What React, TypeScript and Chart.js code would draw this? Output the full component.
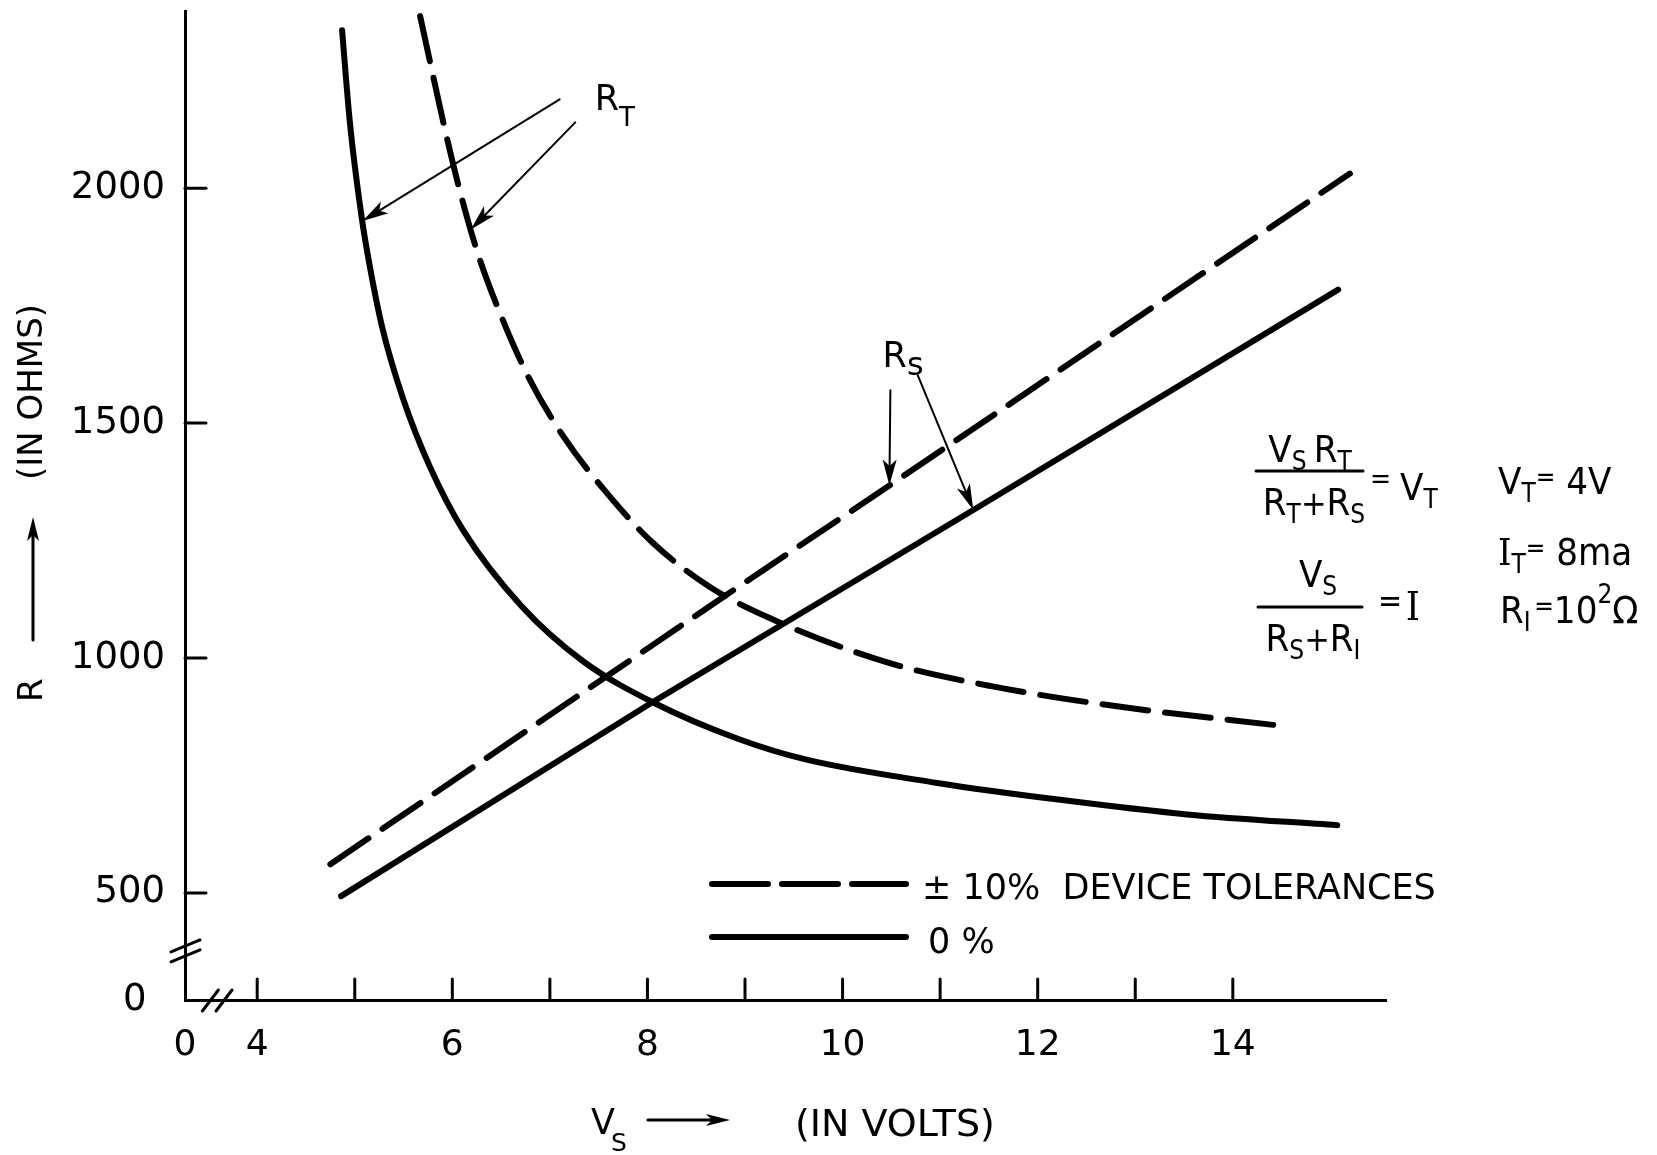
import React, { useEffect, useRef } from "react";
import { Chart, registerables } from "chart.js";

Chart.register(...registerables);

const FONT = '"DejaVu Sans", "Liberation Sans", Arial, sans-serif';
const SERIF = '"DejaVu Serif", "Liberation Serif", serif';

// Axis ranges (volts / ohms); both axes are broken near the origin
const X_MIN = 3.26;
const X_MAX = 15.57;
const Y_MIN = 272;
const Y_MAX = 2377;

const xTickMarks = [4, 5, 6, 7, 8, 9, 10, 11, 12, 13, 14];
const xTickLabels = [4, 6, 8, 10, 12, 14];
const yTickValues = [500, 1000, 1500, 2000];

// R_T at 0 % tolerance (solid)
const rtSolidV = [4.87, 4.95, 5.07, 5.14, 5.28, 5.5, 5.77, 6.11, 6.71, 7.34, 8.08, 8.94, 9.62, 10.97, 12.23, 13.53, 15.07];
const rtSolidR = [2336, 2140, 1939, 1850, 1705, 1549, 1407, 1272, 1110, 993, 903, 827, 784, 734, 698, 667, 644];

// R_T at ±10 % device tolerances (dashed)
const rtDashedV = [5.67, 5.79, 5.93, 6.08, 6.25, 6.49, 6.78, 7.14, 7.6, 8.06, 8.64, 9.23, 10.45, 11.55, 12.85, 14.48];
const rtDashedR = [2366, 2251, 2120, 1992, 1868, 1733, 1598, 1471, 1347, 1244, 1151, 1087, 991, 939, 896, 856];

// R_S at 0 % tolerance (solid)
const rsSolidV = [4.86, 8.03, 11.34, 15.08];
const rsSolidR = [493, 903, 1315, 1784];

// R_S at ±10 % device tolerances (dashed)
const rsDashedV = [4.75, 8.8, 10.48, 15.2];
const rsDashedR = [561, 1133, 1367, 2031];

// Annotation anchors (data coordinates)
const rtLabelAt = [7.46, 2166];
const rtArrows = [
  [7.1, 2189, 5.08, 1930],
  [7.26, 2140, 6.19, 1912],
];
const rsLabelAt = [10.41, 1619];
const rsArrows = [
  [10.49, 1570, 10.48, 1367],
  [10.77, 1602, 11.34, 1315],
];
const xBreakAt = [3.52, 3.66];
const yBreakAt = [387, 366];

type Run = { t: string; s: number; dy?: number; f?: string; gap?: number };

function measureRuns(ctx: CanvasRenderingContext2D, runs: Run[]) {
  let w = 0;
  for (const r of runs) {
    ctx.font = `${r.s}px ${r.f || FONT}`;
    w += ctx.measureText(r.t).width + (r.gap || 0);
  }
  return w;
}

function drawRuns(
  ctx: CanvasRenderingContext2D,
  x: number,
  y: number,
  runs: Run[],
  k = 1,
  align: "left" | "center" = "left"
) {
  const w = measureRuns(ctx, runs) * k;
  const sx = align === "center" ? x - w / 2 : x;
  ctx.save();
  ctx.translate(sx, y);
  ctx.scale(k, 1);
  ctx.textAlign = "left";
  ctx.textBaseline = "alphabetic";
  let px = 0;
  for (const r of runs) {
    ctx.font = `${r.s}px ${r.f || FONT}`;
    ctx.fillText(r.t, px, r.dy || 0);
    px += ctx.measureText(r.t).width + (r.gap || 0);
  }
  ctx.restore();
}

function arrow(
  ctx: CanvasRenderingContext2D,
  x1: number,
  y1: number,
  x2: number,
  y2: number,
  lw: number,
  hl: number,
  hw: number
) {
  const a = Math.atan2(y2 - y1, x2 - x1);
  const bx = x2 - hl * Math.cos(a);
  const by = y2 - hl * Math.sin(a);
  ctx.lineWidth = lw;
  ctx.beginPath();
  ctx.moveTo(x1, y1);
  ctx.lineTo(bx + 0.3 * hl * Math.cos(a), by + 0.3 * hl * Math.sin(a));
  ctx.stroke();
  ctx.beginPath();
  ctx.moveTo(x2, y2);
  ctx.lineTo(bx + hw * Math.sin(a), by - hw * Math.cos(a));
  ctx.lineTo(bx + 0.25 * hl * Math.cos(a), by + 0.25 * hl * Math.sin(a));
  ctx.lineTo(bx - hw * Math.sin(a), by + hw * Math.cos(a));
  ctx.closePath();
  ctx.fill();
}

const decor = {
  id: "decor",
  afterDraw(chart: any) {
    const { ctx, chartArea } = chart;
    const xs = chart.scales.x;
    const ys = chart.scales.y;
    const X = (v: number) => xs.getPixelForValue(v);
    const Y = (v: number) => ys.getPixelForValue(v);
    ctx.save();
    ctx.strokeStyle = "#000";
    ctx.fillStyle = "#000";
    ctx.lineCap = "round";
    ctx.lineJoin = "round";

    // inward tick marks
    ctx.lineWidth = 3;
    for (const v of xTickMarks) {
      ctx.beginPath();
      ctx.moveTo(X(v), chartArea.bottom);
      ctx.lineTo(X(v), chartArea.bottom - 21);
      ctx.stroke();
    }
    for (const v of yTickValues) {
      ctx.beginPath();
      ctx.moveTo(chartArea.left, Y(v));
      ctx.lineTo(chartArea.left + 21, Y(v));
      ctx.stroke();
    }

    // axis breaks
    ctx.lineWidth = 3;
    for (const v of xBreakAt) {
      const cx = X(v);
      const cy = chartArea.bottom;
      ctx.beginPath();
      ctx.moveTo(cx - 8, cy + 11);
      ctx.lineTo(cx + 8, cy - 10);
      ctx.stroke();
    }
    for (const v of yBreakAt) {
      const cx = chartArea.left;
      const cy = Y(v);
      ctx.beginPath();
      ctx.moveTo(cx - 14, cy + 6);
      ctx.lineTo(cx + 15, cy - 6);
      ctx.stroke();
    }

    // R_T label and leaders
    drawRuns(ctx, X(rtLabelAt[0]), Y(rtLabelAt[1]), [
      { t: "R", s: 35 },
      { t: "T", s: 26, dy: 16 },
    ]);
    ctx.fillStyle = "#000";
    for (const a of rtArrows) {
      arrow(ctx, X(a[0]), Y(a[1]), X(a[2]), Y(a[3]), 2, 26, 7);
    }
    // R_S label and leaders
    drawRuns(ctx, X(rsLabelAt[0]), Y(rsLabelAt[1]), [
      { t: "R", s: 35 },
      { t: "s", s: 32, dy: 8 },
    ]);
    for (const a of rsArrows) {
      arrow(ctx, X(a[0]), Y(a[1]), X(a[2]), Y(a[3]), 2, 26, 7);
    }

    // legend
    ctx.lineWidth = 6;
    ctx.setLineDash([56, 14]);
    ctx.beginPath();
    ctx.moveTo(712, 884);
    ctx.lineTo(906, 884);
    ctx.stroke();
    ctx.setLineDash([]);
    ctx.beginPath();
    ctx.moveTo(712, 937);
    ctx.lineTo(906, 937);
    ctx.stroke();
    ctx.font = `35px ${FONT}`;
    ctx.textAlign = "left";
    ctx.textBaseline = "alphabetic";
    ctx.fillText("± 10%  DEVICE TOLERANCES", 922, 899, 518);
    ctx.fillText("0 %", 928, 953);

    // equations
    const K = 0.9;
    drawRuns(ctx, 1310, 462, [
      { t: "V", s: 38 },
      { t: "S", s: 26, dy: 8, gap: 8 },
      { t: "R", s: 38 },
      { t: "T", s: 26, dy: 8 },
    ], K, "center");
    ctx.lineWidth = 3;
    ctx.beginPath();
    ctx.moveTo(1256, 471);
    ctx.lineTo(1363, 471);
    ctx.stroke();
    drawRuns(ctx, 1314, 515, [
      { t: "R", s: 38 },
      { t: "T", s: 26, dy: 8 },
      { t: "+", s: 34 },
      { t: "R", s: 38 },
      { t: "S", s: 26, dy: 8 },
    ], K, "center");
    drawRuns(ctx, 1370, 500, [
      { t: "=", s: 28, dy: -12, gap: 10 },
      { t: "V", s: 38 },
      { t: "T", s: 26, dy: 8 },
    ], K);
    drawRuns(ctx, 1498, 494, [
      { t: "V", s: 38 },
      { t: "T", s: 26, dy: 8 },
      { t: "=", s: 26, dy: -8 },
      { t: " 4V", s: 38 },
    ], K);
    drawRuns(ctx, 1498, 565, [
      { t: "I", s: 38, f: SERIF },
      { t: "T", s: 26, dy: 8 },
      { t: "=", s: 26, dy: -8 },
      { t: " 8ma", s: 38 },
    ], K);
    drawRuns(ctx, 1318, 587, [
      { t: "V", s: 38 },
      { t: "S", s: 26, dy: 8 },
    ], K, "center");
    ctx.beginPath();
    ctx.moveTo(1258, 607);
    ctx.lineTo(1362, 607);
    ctx.stroke();
    drawRuns(ctx, 1313, 651, [
      { t: "R", s: 38 },
      { t: "S", s: 26, dy: 8 },
      { t: "+", s: 34 },
      { t: "R", s: 38 },
      { t: "I", s: 26, dy: 8 },
    ], K, "center");
    drawRuns(ctx, 1378, 620, [
      { t: "=", s: 32, dy: -8, gap: 4 },
      { t: "I", s: 40, f: SERIF },
    ], K);
    drawRuns(ctx, 1500, 623, [
      { t: "R", s: 38 },
      { t: "I", s: 26, dy: 8, gap: 4 },
      { t: "=", s: 26, dy: -8 },
      { t: "10", s: 38 },
      { t: "2", s: 26, dy: -20 },
      { t: "Ω", s: 38 },
    ], K);

    // x axis title
    drawRuns(ctx, 591, 1134, [{ t: "V", s: 35 }]);
    drawRuns(ctx, 611, 1151, [{ t: "S", s: 25 }]);
    arrow(ctx, 648, 1120, 730, 1120, 3, 24, 6);
    ctx.font = `38px ${FONT}`;
    ctx.textAlign = "left";
    ctx.textBaseline = "alphabetic";
    ctx.fillText("(IN VOLTS)", 795, 1136, 210);

    // y axis title (rotated)
    ctx.save();
    ctx.translate(33, 0);
    ctx.rotate(-Math.PI / 2);
    ctx.font = `34px ${FONT}`;
    ctx.textAlign = "left";
    ctx.textBaseline = "middle";
    ctx.fillText("R", -702, 0);
    arrow(ctx, -640, 0, -517, 0, 3, 24, 6);
    ctx.fillText("(IN OHMS)", -480, 0, 186);
    ctx.restore();

    ctx.restore();
  },
};

function toPoints(vs: number[], rs: number[]) {
  return vs.map((v, i) => ({ x: v, y: rs[i] }));
}

export default function App() {
  const ref = useRef<HTMLCanvasElement>(null);
  useEffect(() => {
    const base = {
      borderColor: "#000",
      backgroundColor: "#000",
      borderWidth: 6,
      pointRadius: 0,
      pointHoverRadius: 0,
      fill: false,
      borderCapStyle: "round" as const,
      borderJoinStyle: "round" as const,
    };
    const chart = new Chart(ref.current as HTMLCanvasElement, {
      type: "line",
      data: {
        datasets: [
          { ...base, label: "R_T 0 %", data: toPoints(rtSolidV, rtSolidR), cubicInterpolationMode: "monotone" },
          { ...base, label: "R_T ±10 %", data: toPoints(rtDashedV, rtDashedR), cubicInterpolationMode: "monotone", borderDash: [46, 17] },
          { ...base, label: "R_S 0 %", data: toPoints(rsSolidV, rsSolidR), tension: 0 },
          { ...base, label: "R_S ±10 %", data: toPoints(rsDashedV, rsDashedR), tension: 0, borderDash: [46, 17] },
        ] as any,
      },
      options: {
        animation: false,
        responsive: true,
        maintainAspectRatio: false,
        layout: { padding: { top: 11, right: 271, left: 0, bottom: 0 } },
        plugins: { legend: { display: false }, tooltip: { enabled: false } },
        events: [],
        scales: {
          x: {
            type: "linear",
            min: X_MIN,
            max: X_MAX,
            afterFit: (s: any) => {
              s.height = 155;
              s.paddingLeft = 0;
              s.paddingRight = 0;
              s.paddingTop = 0;
              s.paddingBottom = 0;
            },
            afterBuildTicks: (s: any) => {
              s.ticks = [X_MIN, ...xTickLabels].map((v) => ({ value: v }));
            },
            grid: { display: false, drawTicks: false },
            border: { display: true, color: "#000", width: 3 },
            ticks: {
              autoSkip: false,
              maxRotation: 0,
              padding: 24,
              color: "#000",
              font: { family: FONT, size: 36 },
              callback: (v: any) => (v === X_MIN ? "0" : String(v)),
            },
          },
          y: {
            type: "linear",
            min: Y_MIN,
            max: Y_MAX,
            afterFit: (s: any) => {
              s.width = 185;
              s.paddingLeft = 0;
              s.paddingRight = 0;
              s.paddingTop = 0;
              s.paddingBottom = 0;
            },
            afterBuildTicks: (s: any) => {
              s.ticks = [Y_MIN, ...yTickValues].map((v) => ({ value: v }));
            },
            grid: { display: false, drawTicks: false },
            border: { display: true, color: "#000", width: 3 },
            ticks: {
              autoSkip: false,
              padding: 20,
              color: "#000",
              font: { family: FONT, size: 37 },
              callback: (v: any) => (v === Y_MIN ? "0\u2002" : String(v)),
            },
          },
        },
      } as any,
      plugins: [decor],
    });
    return () => chart.destroy();
  }, []);
  return (
    <div
      style={{
        position: "absolute",
        left: 0,
        top: 0,
        width: 1657,
        height: 1155,
        background: "#fff",
      }}
    >
      <canvas ref={ref} />
    </div>
  );
}
